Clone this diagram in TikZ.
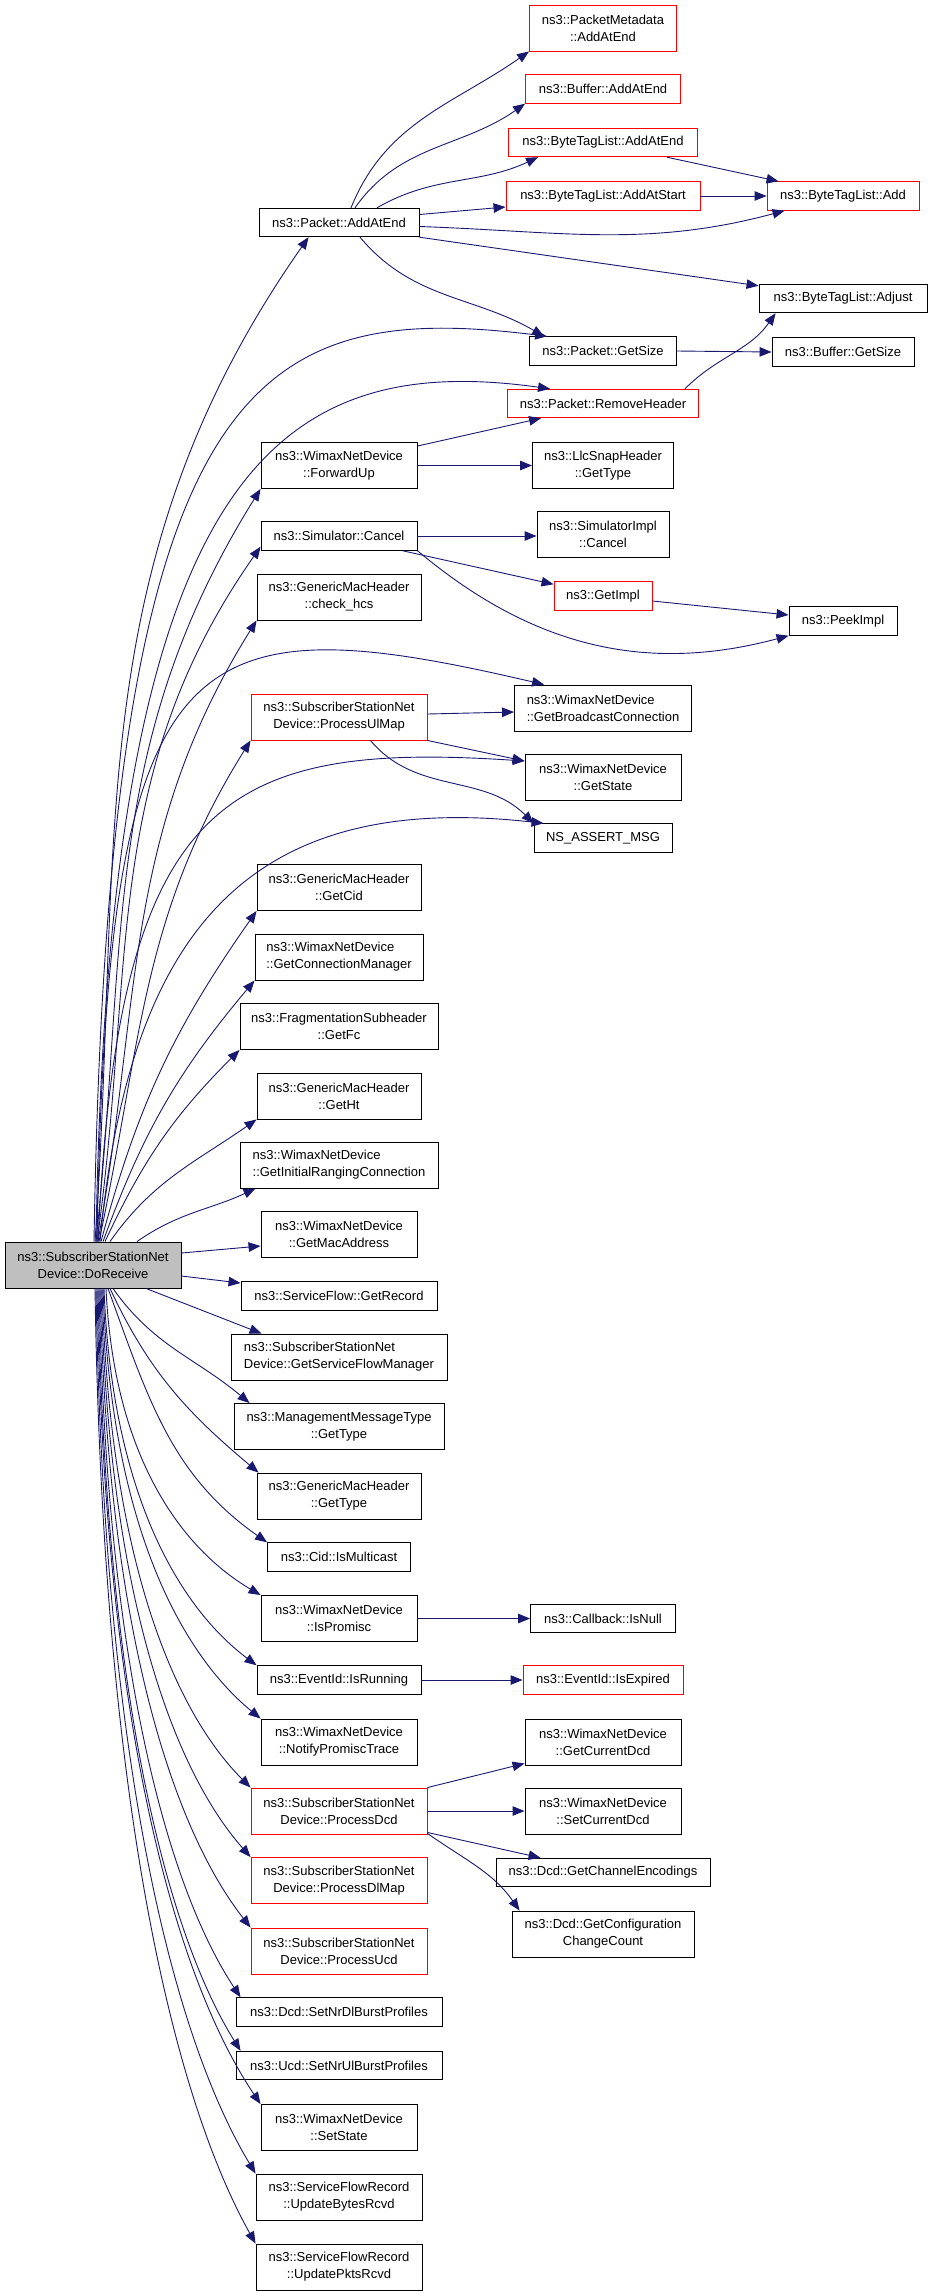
\documentclass[tikz,border=0pt]{standalone}
\usepackage{fontspec}
\setmainfont{Liberation Sans}
\usetikzlibrary{arrows.meta}

\definecolor{callblue}{RGB}{25,25,112}

\tikzset{
	fn/.style={draw=black, fill=white, line width=0.9pt, align=center, inner sep=1pt, minimum height=28.5, font=\fontsize{13}{17}\selectfont},
	fntwo/.style={fn, minimum height=46},
	fnred/.style={draw=red},
	fnroot/.style={fntwo, fill=black!25},
	call/.style={draw=callblue, line width=0.9pt, -{Triangle[length=12pt,width=9.5pt]}},
}

\begin{document}
\begin{tikzpicture}[x=1pt, y=1pt]

		\pgfmathsetmacro{\colA}{339}
		\pgfmathsetmacro{\colB}{603}
		\pgfmathsetmacro{\colC}{843}

		\useasboundingbox (0, 0) rectangle (928, -2292);

		% caller
		\node[fnroot, minimum width=176] (root) at (93, -1265) {ns3::SubscriberStationNet\\Device::DoReceive};

		% first column
		\node[fn, minimum width=160] (pktend) at (\colA, -222.5) {ns3::Packet::AddAtEnd};
		\node[fntwo, minimum width=156] (fwdup) at (\colA, -465.5) {ns3::WimaxNetDevice\\::ForwardUp};
		\node[fn, minimum width=156] (cancel) at (\colA, -536) {ns3::Simulator::Cancel};
		\node[fntwo, minimum width=164] (hcs) at (\colA, -597) {ns3::GenericMacHeader\\::check\_hcs};
		\node[fntwo, fnred, minimum width=176] (ulmap) at (\colA, -717) {ns3::SubscriberStationNet\\Device::ProcessUlMap};
		\node[fntwo, minimum width=164] (getcid) at (\colA, -887.5) {ns3::GenericMacHeader\\::GetCid};
		\node[fntwo, minimum width=168, align=left] (connmgr) at (\colA, -957) {ns3::WimaxNetDevice\\::GetConnectionManager};
		\node[fntwo, minimum width=198] (getfc) at (\colA, -1026.5) {ns3::FragmentationSubheader\\::GetFc};
		\node[fntwo, minimum width=164] (getht) at (\colA, -1096) {ns3::GenericMacHeader\\::GetHt};
		\node[fntwo, minimum width=198, align=left] (ranging) at (\colA, -1165) {ns3::WimaxNetDevice\\::GetInitialRangingConnection};
		\node[fntwo, minimum width=156] (macaddr) at (\colA, -1234.5) {ns3::WimaxNetDevice\\::GetMacAddress};
		\node[fn, minimum width=196] (getrecord) at (\colA, -1296) {ns3::ServiceFlow::GetRecord};
		\node[fntwo, minimum width=216, align=left] (sfmgr) at (\colA, -1357) {ns3::SubscriberStationNet\\Device::GetServiceFlowManager};
		\node[fntwo, minimum width=210] (mmtype) at (\colA, -1426.5) {ns3::ManagementMessageType\\::GetType};
		\node[fntwo, minimum width=164] (gmhtype) at (\colA, -1496) {ns3::GenericMacHeader\\::GetType};
		\node[fn, minimum width=143] (multicast) at (\colA, -1557) {ns3::Cid::IsMulticast};
		\node[fntwo, minimum width=156] (promisc) at (\colA, -1618.5) {ns3::WimaxNetDevice\\::IsPromisc};
		\node[fn, minimum width=164] (running) at (\colA, -1680) {ns3::EventId::IsRunning};
		\node[fntwo, minimum width=156] (notify) at (\colA, -1742) {ns3::WimaxNetDevice\\::NotifyPromiscTrace};
		\node[fntwo, fnred, minimum width=176] (dcd) at (\colA, -1811) {ns3::SubscriberStationNet\\Device::ProcessDcd};
		\node[fntwo, fnred, minimum width=176] (dlmap) at (\colA, -1880.5) {ns3::SubscriberStationNet\\Device::ProcessDlMap};
		\node[fntwo, fnred, minimum width=176] (ucd) at (\colA, -1951) {ns3::SubscriberStationNet\\Device::ProcessUcd};
		\node[fn, minimum width=206] (dlburst) at (\colA, -2012) {ns3::Dcd::SetNrDlBurstProfiles};
		\node[fn, minimum width=206] (ulburst) at (\colA, -2065.5) {ns3::Ucd::SetNrUlBurstProfiles};
		\node[fntwo, minimum width=156] (setstate) at (\colA, -2127.5) {ns3::WimaxNetDevice\\::SetState};
		\node[fntwo, minimum width=166] (bytes) at (\colA, -2197) {ns3::ServiceFlowRecord\\::UpdateBytesRcvd};
		\node[fntwo, minimum width=166] (pkts) at (\colA, -2267) {ns3::ServiceFlowRecord\\::UpdatePktsRcvd};

		% second column
		\node[fntwo, fnred, minimum width=147] (meta) at (\colB, -28) {ns3::PacketMetadata\\::AddAtEnd};
		\node[fn, fnred, minimum width=155] (bufend) at (\colB, -89) {ns3::Buffer::AddAtEnd};
		\node[fn, fnred, minimum width=189] (btlend) at (\colB, -142.5) {ns3::ByteTagList::AddAtEnd};
		\node[fn, fnred, minimum width=194] (btlstart) at (\colB, -196) {ns3::ByteTagList::AddAtStart};
		\node[fn, minimum width=147] (getsize) at (\colB, -351) {ns3::Packet::GetSize};
		\node[fn, fnred, minimum width=191] (rmhdr) at (\colB, -403.5) {ns3::Packet::RemoveHeader};
		\node[fntwo, minimum width=141] (llc) at (\colB, -465.5) {ns3::LlcSnapHeader\\::GetType};
		\node[fntwo, minimum width=132] (simcancel) at (\colB, -534.5) {ns3::SimulatorImpl\\::Cancel};
		\node[fn, fnred, minimum width=98] (getimpl) at (\colB, -596) {ns3::GetImpl};
		\node[fntwo, minimum width=177, align=left] (bcast) at (\colB, -708) {ns3::WimaxNetDevice\\::GetBroadcastConnection};
		\node[fntwo, minimum width=156] (getstate) at (\colB, -777) {ns3::WimaxNetDevice\\::GetState};
		\node[fn, minimum width=138] (assert) at (\colB, -838) {NS\_ASSERT\_MSG};
		\node[fn, minimum width=145] (isnull) at (\colB, -1618.5) {ns3::Callback::IsNull};
		\node[fn, fnred, minimum width=160] (expired) at (\colB, -1680) {ns3::EventId::IsExpired};
		\node[fntwo, minimum width=156] (curdcd) at (\colB, -1742) {ns3::WimaxNetDevice\\::GetCurrentDcd};
		\node[fntwo, minimum width=156] (setcur) at (\colB, -1811) {ns3::WimaxNetDevice\\::SetCurrentDcd};
		\node[fn, minimum width=214] (chenc) at (\colB, -1872.5) {ns3::Dcd::GetChannelEncodings};
		\node[fntwo, minimum width=182] (cfgcnt) at (\colB, -1934) {ns3::Dcd::GetConfiguration\\ChangeCount};

		% third column
		\node[fn, fnred, minimum width=152] (btladd) at (\colC, -196) {ns3::ByteTagList::Add};
		\node[fn, minimum width=168] (adjust) at (\colC, -298.5) {ns3::ByteTagList::Adjust};
		\node[fn, minimum width=142] (bufsize) at (\colC, -352) {ns3::Buffer::GetSize};
		\node[fn, minimum width=108] (peek) at (\colC, -621) {ns3::PeekImpl};

		% calls going up from the caller
		\draw[call] ([xshift=2]root.north) to[out=86, in=235] ([xshift=50]pktend.south west);
		\draw[call] ([xshift=1]root.north) .. controls +(14,862) and +(-297,37) .. ([xshift=18]getsize.north west); % over the top
		\draw[call] ([xshift=3]root.north) .. controls +(12,762) and +(-280,39) .. ([xshift=43]rmhdr.north west); % over the top
		\draw[call] ([xshift=3]root.north) to[out=84, in=238] (fwdup.south west);
		\draw[call] ([xshift=4]root.north) to[out=82, in=235] ([yshift=4]cancel.south west);
		\draw[call] ([xshift=5]root.north) to[out=80, in=238] (hcs.south west);
		\draw[call] ([xshift=4]root.north) .. controls +(11,602) and +(-364,85) .. ([xshift=30]bcast.north west); % over the top
		\draw[call] ([xshift=6]root.north) to[out=78, in=238] (ulmap.south west);
		\draw[call] ([xshift=5]root.north) .. controls +(20,442) and +(-303,20) .. ([yshift=16]getstate.west); % over the top
		\draw[call] ([xshift=7]root.north) .. controls +(29,312) and +(-294,33) .. ([xshift=10]assert.north west); % over the top
		\draw[call] ([xshift=8]root.north) to[out=75, in=235] (getcid.south west);
		\draw[call] ([xshift=10]root.north) to[out=70, in=230] (connmgr.south west);
		\draw[call] ([xshift=12]root.north) to[out=65, in=225] (getfc.south west);
		\draw[call] ([xshift=17]root.north) to[out=55, in=215] (getht.south west);
		\draw[call] ([xshift=44]root.north) to[out=35, in=205] ([xshift=16]ranging.south west);
		\draw[call] ([yshift=12]root.east) -- ([yshift=-11.5]macaddr.west);

		% calls going down from the caller
		\draw[call] ([yshift=-11]root.east) -- ([yshift=13]getrecord.west);
		\draw[call] ([xshift=53]root.south) -- ([xshift=31]sfmgr.north west);
		\draw[call] ([xshift=20]root.south) to[out=-55, in=140] ([xshift=16]mmtype.north west);
		\draw[call] ([xshift=17]root.south) to[out=-65, in=140] ([xshift=2]gmhtype.north west);
		\draw[call] ([xshift=15]root.south) to[out=-70, in=145] (multicast.north west);
		\draw[call] ([xshift=13]root.south) .. controls +(8,-170) and +(-78,46) .. (promisc.north west);
		\draw[call] ([xshift=11]root.south) .. controls +(8,-208) and +(-76,57) .. (running.north west);
		\draw[call] ([xshift=10]root.south) .. controls +(8,-237) and +(-79,65) .. (notify.north west);
		\draw[call] ([xshift=9]root.south) .. controls +(8,-275) and +(-75,75) .. (dcd.north west);
		\draw[call] ([xshift=8]root.south) .. controls +(8,-313) and +(-75,85) .. (dlmap.north west);
		\draw[call] ([xshift=7]root.south) .. controls +(8,-352) and +(-75,96) .. (ucd.north west);
		\draw[call] ([xshift=6]root.south) .. controls +(8,-390) and +(-70,106) .. ([xshift=5]dlburst.north west);
		\draw[call] ([xshift=5]root.south) .. controls +(8,-420) and +(-71,114) .. ([xshift=5]ulburst.north west);
		\draw[call] ([xshift=4]root.south) .. controls +(8,-450) and +(-82,122) .. (setstate.north west);
		\draw[call] ([xshift=3]root.south) .. controls +(8,-487) and +(-80,133) .. (bytes.north west);
		\draw[call] ([xshift=2]root.south) .. controls +(8,-526) and +(-80,143) .. (pkts.north west);

		% calls of the second level
		\draw[call] ([xshift=12]pktend.north) to[out=68, in=215] (meta.south west);
		\draw[call] ([xshift=16]pktend.north) to[out=55, in=215] (bufend.south west);
		\draw[call] ([xshift=38]pktend.north) to[out=30, in=205] ([xshift=30]btlend.south west);
		\draw[call] ([yshift=8]pktend.east) -- ([yshift=-11]btlstart.west);
		\draw[call] ([yshift=-4]pktend.east) to[out=-2, in=195] ([xshift=18]btladd.south west);
		\draw[call] (pktend.south east) -- ([yshift=-2]adjust.north west);
		\draw[call] ([xshift=21]pktend.south) to[out=-50, in=150] ([xshift=15]getsize.north west);
		\draw[call] ([xshift=-31]btlend.south east) -- ([xshift=12]btladd.north west);
		\draw[call] (btlstart.east) -- (btladd.west);
		\draw[call] (getsize.east) -- (bufsize.west);
		\draw[call] ([xshift=-14]rmhdr.north east) to[out=45, in=235] ([xshift=17]adjust.south west);
		\draw[call] ([yshift=-4]fwdup.north east) -- ([xshift=34]rmhdr.south west);
		\draw[call] (fwdup.east) -- (llc.west);
		\draw[call] (cancel.east) -- (cancel.east -| simcancel.west);
		\draw[call] ([xshift=-15]cancel.south east) -- ([yshift=-3]getimpl.north west);
		\draw[call] (cancel.south east) to[out=-40, in=195] (peek.south west);
		\draw[call] ([yshift=-5]getimpl.east) -- ([yshift=6]peek.west);
		\draw[call] ([yshift=3]ulmap.east) -- ([yshift=-4]bcast.west);
		\draw[call] (ulmap.south east) -- ([yshift=16]getstate.west);
		\draw[call] ([xshift=-57]ulmap.south east) to[out=-50, in=135] (assert.north west);
		\draw[call] (promisc.east) -- (isnull.west);
		\draw[call] (running.east) -- (expired.west);
		\draw[call] (dcd.north east) -- ([yshift=2]curdcd.south west);
		\draw[call] (dcd.east) -- (setcur.west);
		\draw[call] ([yshift=2]dcd.south east) -- ([xshift=45]chenc.north west);
		\draw[call] ([yshift=1]dcd.south east) to[out=-35, in=125] ([xshift=8]cfgcnt.north west);
	\end{tikzpicture}
\end{document}
